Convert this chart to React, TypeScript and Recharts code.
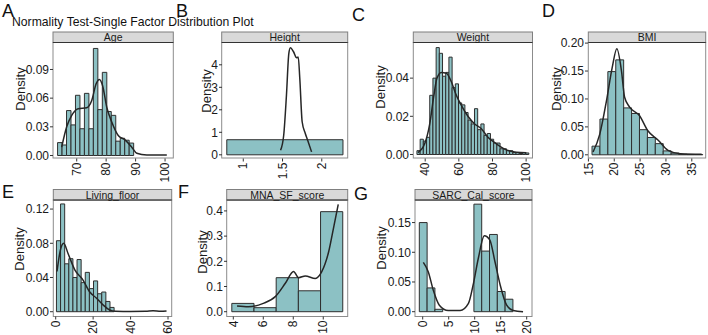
import React from 'react'
import { ComposedChart, Line, XAxis, YAxis, ReferenceArea } from 'recharts'

const FONT = '"Liberation Sans", Arial, Helvetica, sans-serif'
const BAR_FILL = '#8cc1c4'
const BAR_LINE = '#2e2e2e'
const CURVE = '#262626'

// Age
const ageEdges = [63.5, 65.02, 66.54, 68.06, 69.58, 71.1, 72.62, 74.14, 75.66, 77.18, 78.7, 80.22, 81.74, 83.26, 84.78, 86.3, 87.82, 89.34]
const ageHeights = [0.0135, 0.011, 0.047, 0.032, 0.063, 0.028, 0.065, 0.028, 0.112, 0.048, 0.087, 0.046, 0.042, 0.015, 0.018, 0.016, 0.013]
const ageDensX = [64.9, 66.6, 68.3, 70.5, 73.4, 75.1, 76.6, 77.7, 78.8, 80.2, 81.9, 84.1, 86.4, 88.7, 90.4, 93.8, 97, 100.6]
const ageDensY = [0.0087, 0.03, 0.042, 0.049, 0.05, 0.0576, 0.075, 0.0795, 0.073, 0.0506, 0.035, 0.021, 0.0164, 0.0087, 0.0024, 0.0005, 0.0004, 0.0006]
const ageXTicks = [70, 80, 90, 100]
const ageYTicks = [0, 0.03, 0.06, 0.09]

// Height
const heightEdges = [0.79, 2.27]
const heightHeights = [0.67]
const heightDensX = [1.475, 1.515, 1.55, 1.58, 1.6, 1.64, 1.68, 1.7, 1.72, 1.75, 1.79, 1.82, 1.87]
const heightDensY = [0.2, 0.87, 2.65, 4.5, 4.76, 4.58, 4.31, 4.35, 3.39, 1.47, 0.95, 0.65, 0.13]
const heightXTicks = [1, 1.5, 2]
const heightYTicks = [0, 1, 2, 3, 4]

// Weight
const weightEdges = [35.1, 37.0, 38.9, 40.8, 42.7, 44.6, 46.5, 48.4, 50.3, 52.2, 54.1, 56.0, 57.9, 59.8, 61.7, 63.6, 65.5, 67.4, 69.3, 71.2, 73.1, 75.0, 76.9, 78.8, 80.7, 82.6, 84.5, 86.4, 88.3, 90.2, 92.1, 94.0, 95.9, 97.8, 99.7, 101.6]
const weightHeights = [0.002, 0.008, 0.007, 0.009, 0.031, 0.04, 0.056, 0.053, 0.041, 0.043, 0.051, 0.035, 0.037, 0.027, 0.026, 0.022, 0.018, 0.016, 0.024, 0.013, 0.016, 0.01, 0.011, 0.008, 0.006, 0.006, 0.003, 0.003, 0.002, 0.002, 0.001, 0.001, 0.0005, 0.001, 0.0008]
const weightDensX = [35.7, 39.7, 42.7, 45.0, 47.0, 49.6, 52.6, 55.6, 58.5, 61.5, 65.4, 69.4, 73.4, 77.3, 82.3, 88.2, 94.2, 100.1]
const weightDensY = [0.001, 0.0056, 0.016, 0.03, 0.04, 0.043, 0.0426, 0.038, 0.031, 0.0257, 0.02, 0.016, 0.0135, 0.009, 0.0056, 0.0024, 0.0012, 0.0009]
const weightXTicks = [40, 60, 80, 100]
const weightYTicks = [0, 0.02, 0.04]

// BMI
const bmiEdges = [15.7, 17.23, 18.76, 20.29, 21.82, 23.35, 24.88, 26.41, 27.94, 29.47, 31.0, 32.53, 34.06, 35.59, 37.12]
const bmiHeights = [0.0155, 0.064, 0.149, 0.17, 0.084, 0.074, 0.045, 0.031, 0.02, 0.007, 0.003, 0.001, 0.0005, 0.0005]
const bmiDensX = [15.9, 17.2, 18.5, 19.6, 20.5, 21.4, 22.0, 23.0, 24.9, 26.5, 28.5, 30.4, 32.8, 36.9]
const bmiDensY = [0.005, 0.037, 0.097, 0.156, 0.19, 0.15, 0.103, 0.085, 0.07, 0.043, 0.026, 0.008, 0.002, 0.001]
const bmiXTicks = [15, 20, 25, 30, 35]
const bmiYTicks = [0, 0.05, 0.1, 0.15, 0.2]

// Living_floor
const floorEdges = [0.4, 2.6, 4.8, 7.0, 9.2, 11.4, 13.6, 15.8, 18.0, 20.2, 22.4, 24.6, 26.8, 29.0, 31.2]
const floorHeights = [0.083, 0.126, 0.056, 0.062, 0.04, 0.061, 0.034, 0.046, 0.027, 0.036, 0.021, 0.023, 0.012, 0.005]
const floorDensX = [0.7, 2.5, 4.3, 6.6, 10.2, 14.6, 18.2, 21.7, 25.3, 28.8, 32, 40, 48, 52, 56, 59.2]
const floorDensY = [0.047, 0.072, 0.08, 0.068, 0.049, 0.037, 0.023, 0.016, 0.008, 0.002, 0.0005, 0.0003, 0.0004, 0.0012, 0.0004, 0.0008]
const floorXTicks = [0, 20, 40, 60]
const floorYTicks = [0, 0.04, 0.08, 0.12]

// MNA_SF_score
const mnaEdges = [3.9, 5.38, 6.86, 8.34, 9.82, 11.3]
const mnaHeights = [0.033, 0.016, 0.135, 0.083, 0.397]
const mnaDensX = [4.25, 5.0, 6.0, 6.8, 7.47, 8.02, 8.36, 8.8, 9.47, 9.9, 10.36, 10.7, 11.0]
const mnaDensY = [0.023, 0.02, 0.033, 0.06, 0.113, 0.16, 0.135, 0.142, 0.132, 0.159, 0.238, 0.337, 0.426]
const mnaXTicks = [4, 6, 8, 10]
const mnaYTicks = [0, 0.1, 0.2, 0.3, 0.4]

// SARC_Cal_score
const sarcEdges = [-0.65, 0.85, 2.35, 3.85, 5.35, 6.85, 8.35, 9.85, 11.35, 12.85, 14.35, 15.85, 17.35]
const sarcHeights = [0.15, 0.04, 0.004, 0, 0, 0, 0, 0.181, 0.102, 0.13, 0.034, 0.021]
const sarcDensX = [0.12, 1.08, 2.04, 3.2, 4.9, 7.2, 8.8, 9.7, 10.7, 11.85, 12.9, 13.9, 14.9, 16.15, 17.4, 19.3]
const sarcDensY = [0.083, 0.067, 0.036, 0.011, 0.002, 0.002, 0.014, 0.045, 0.09, 0.128, 0.121, 0.084, 0.045, 0.011, 0.002, 0.0]
const sarcXTicks = [0, 5, 10, 15, 20]
const sarcYTicks = [0, 0.05, 0.1, 0.15]

type PanelCfg = {
  letter: string
  name: string
  edges: number[]
  heights: number[]
  densX: number[]
  densY: number[]
  xTicks: number[]
  yTicks: number[]
  digits: number
  xDomain: [number, number]
  yDomain: [number, number]
  box: [number, number, number, number] // left, top, right, bottom of the panel
  yw: number
  letterPos: [number, number]
  densPos: [number, number]
}

const STRIP_H = 10.5
const PAD_TOP = 8

const panels: PanelCfg[] = [
  { letter: 'A', name: 'Age', edges: ageEdges, heights: ageHeights, densX: ageDensX, densY: ageDensY, xTicks: ageXTicks, yTicks: ageYTicks, digits: 2, xDomain: [61.95, 102.8], yDomain: [-0.00314, 0.1177], box: [53, 42.5, 173.3, 158], yw: 34, letterPos: [2, 16.5], densPos: [20, 89] },
  { letter: 'B', name: 'Height', edges: heightEdges, heights: heightHeights, densX: heightDensX, densY: heightDensY, xTicks: heightXTicks, yTicks: heightYTicks, digits: 0, xDomain: [0.729, 2.334], yDomain: [-0.164, 4.969], box: [221.7, 42.5, 347.7, 158], yw: 20, letterPos: [176, 16.5], densPos: [206, 91] },
  { letter: 'C', name: 'Weight', edges: weightEdges, heights: weightHeights, densX: weightDensX, densY: weightDensY, xTicks: weightXTicks, yTicks: weightYTicks, digits: 2, xDomain: [32.75, 103.6], yDomain: [-0.0021, 0.0584], box: [413.3, 42.5, 532.5, 158], yw: 34, letterPos: [352, 20.5], densPos: [380, 87] },
  { letter: 'D', name: 'BMI', edges: bmiEdges, heights: bmiHeights, densX: bmiDensX, densY: bmiDensY, xTicks: bmiXTicks, yTicks: bmiYTicks, digits: 2, xDomain: [14.92, 37.63], yDomain: [-0.0066, 0.2002], box: [588.3, 42.5, 705.7, 158], yw: 34, letterPos: [542, 16.5], densPos: [556.5, 89] },
  { letter: 'E', name: 'Living_floor', edges: floorEdges, heights: floorHeights, densX: floorDensX, densY: floorDensY, xTicks: floorXTicks, yTicks: floorYTicks, digits: 2, xDomain: [-1.44, 61.8], yDomain: [-0.0056, 0.1306], box: [53.3, 200, 171.7, 316.5], yw: 34, letterPos: [2, 198], densPos: [19, 249] },
  { letter: 'F', name: 'MNA_SF_score', edges: mnaEdges, heights: mnaHeights, densX: mnaDensX, densY: mnaDensY, xTicks: mnaXTicks, yTicks: mnaYTicks, digits: 1, xDomain: [3.58, 11.65], yDomain: [-0.019, 0.4433], box: [226.7, 200, 347.7, 316.5], yw: 28, letterPos: [178, 198], densPos: [202.5, 252] },
  { letter: 'G', name: 'SARC_Cal_score', edges: sarcEdges, heights: sarcHeights, densX: sarcDensX, densY: sarcDensY, xTicks: sarcXTicks, yTicks: sarcYTicks, digits: 2, xDomain: [-1.48, 21.02], yDomain: [-0.0081, 0.188], box: [415, 200, 532, 316.5], yw: 34, letterPos: [354, 199.5], densPos: [381.7, 248] },
]

const XTick = (props: any) => {
  const { x, y, payload } = props
  return (
    <g transform={`translate(${x},${y})`}>
      <text transform="rotate(-90)" textAnchor="end" dy="0.35em" fontSize={12} fill="#1a1a1a" fontFamily={FONT}>
        {payload.value}
      </text>
    </g>
  )
}

function Panel({ p }: { p: PanelCfg }) {
  const [l, t, r, b] = p.box
  const xh = 30
  const data = p.densX.map((x, i) => ({ x, d: p.densY[i] }))
  return (
    <div style={{ position: 'absolute', left: l - p.yw, top: t - PAD_TOP }}>
      <ComposedChart
        width={r - l + p.yw}
        height={b - t + xh + PAD_TOP}
        data={data}
        margin={{ top: PAD_TOP, right: 0, bottom: 0, left: 0 }}
      >
        <XAxis
          dataKey="x"
          type="number"
          domain={p.xDomain}
          ticks={p.xTicks}
          allowDataOverflow
          interval={0}
          height={xh}
          tickSize={3}
          tickMargin={1}
          axisLine={false}
          tickLine={{ stroke: '#333' }}
          tick={<XTick />}
        />
        <YAxis
          type="number"
          domain={p.yDomain}
          ticks={p.yTicks}
          allowDataOverflow
          interval={0}
          width={p.yw}
          tickSize={3}
          tickMargin={1}
          axisLine={false}
          tickLine={{ stroke: '#333' }}
          tick={{ fontSize: 12, fill: '#1a1a1a', fontFamily: FONT }}
          tickFormatter={(v: number) => v.toFixed(p.digits)}
        />
        {p.heights.map((h, i) =>
          h > 0 ? (
            <ReferenceArea
              key={i}
              x1={p.edges[i]}
              x2={p.edges[i + 1]}
              y1={0}
              y2={h}
              fill={BAR_FILL}
              fillOpacity={1}
              stroke={BAR_LINE}
              strokeWidth={1}
            />
          ) : null
        )}
        <Line type="monotone" dataKey="d" stroke={CURVE} strokeWidth={1.5} dot={false} isAnimationActive={false} />
      </ComposedChart>
    </div>
  )
}

export default function App() {
  return (
    <div style={{ position: 'absolute', left: 0, top: 0, width: 708, height: 335, background: '#fff', overflow: 'hidden', fontFamily: FONT }}>
      <svg width={708} height={335} style={{ position: 'absolute', left: 0, top: 0 }}>
        <text x={12} y={26} fontSize={12.2} fill="#111" fontFamily={FONT}>
          Normality Test-Single Factor Distribution Plot
        </text>
        {panels.map((p) => {
          const [l, t, r, b] = p.box
          return (
            <g key={p.name}>
              <text x={p.letterPos[0]} y={p.letterPos[1]} fontSize={18} fill="#111" fontFamily={FONT}>
                {p.letter}
              </text>
              <rect x={l} y={t} width={r - l} height={b - t} fill="#fff" stroke="#8c8c8c" strokeWidth={1} />
              <rect x={l} y={t - STRIP_H} width={r - l} height={STRIP_H} fill="#d9d9d9" stroke="#7f7f7f" strokeWidth={1} />
              <line x1={l} x2={r} y1={t} y2={t} stroke="#333" strokeWidth={1.2} />
              <text x={(l + r) / 2} y={t - STRIP_H / 2} dy="0.36em" textAnchor="middle" fontSize={10.5} fill="#1a1a1a" fontFamily={FONT}>
                {p.name}
              </text>
              <text
                x={p.densPos[0]}
                y={p.densPos[1]}
                dy="0.35em"
                textAnchor="middle"
                fontSize={13}
                fill="#1a1a1a"
                fontFamily={FONT}
                transform={`rotate(-90, ${p.densPos[0]}, ${p.densPos[1]})`}
              >
                Density
              </text>
            </g>
          )
        })}
      </svg>
      {panels.map((p) => (
        <Panel key={p.name} p={p} />
      ))}
    </div>
  )
}
